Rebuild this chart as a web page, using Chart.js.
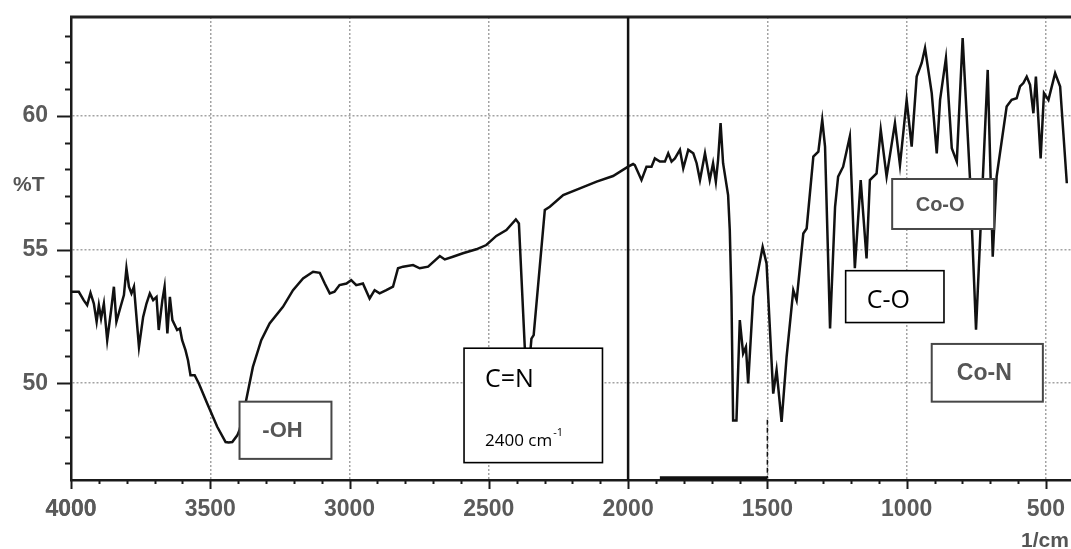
<!DOCTYPE html>
<html>
<head>
<meta charset="utf-8">
<title>FTIR spectrum</title>
<script src="https://cdn.jsdelivr.net/npm/chart.js@4.4.1/dist/chart.umd.min.js"></script>
<style>
  html, body { margin: 0; padding: 0; background: #fff; }
  #spectrum { display: block; }
</style>
</head>
<body>
<canvas id="spectrum" width="1071" height="549"></canvas>
<script>
// wavenumber (1/cm) and %T, read along the trace from 4000 down to ~425
const wavenumber = [
  4000, 3972, 3954, 3942, 3930, 3918, 3908, 3900, 3892, 3882, 3870, 3856, 3846, 3837, 3822, 3810,
  3801, 3792, 3783, 3774, 3756, 3741, 3729, 3717, 3705, 3693, 3685, 3672, 3664, 3654, 3645, 3636,
  3619, 3609, 3601, 3589, 3580, 3571, 3556, 3541, 3511, 3475, 3445, 3434, 3421, 3403, 3395, 3371,
  3347, 3317, 3287, 3239, 3203, 3167, 3131, 3107, 3089, 3071, 3054, 3036, 3011, 2994, 2976, 2952,
  2928, 2910, 2892, 2868, 2844, 2826, 2808, 2772, 2748, 2718, 2676, 2658, 2629, 2593, 2545, 2509,
  2473, 2437, 2403, 2392, 2371, 2364, 2355, 2347, 2339, 2299, 2281, 2233, 2173, 2113, 2054, 2000,
  1982, 1976, 1952, 1934, 1916, 1904, 1886, 1868, 1856, 1844, 1832, 1814, 1802, 1784, 1766, 1754,
  1742, 1724, 1707, 1695, 1685, 1677, 1668, 1659, 1641, 1635, 1629, 1623, 1611, 1599, 1587, 1577,
  1569, 1551, 1517, 1503, 1479, 1467, 1449, 1431, 1407, 1395, 1371, 1359, 1335, 1317, 1303, 1293,
  1275, 1257, 1246, 1228, 1204, 1186, 1165, 1144, 1132, 1108, 1093, 1072, 1042, 1024, 1000, 982,
  964, 946, 934, 910, 892, 880, 859, 838, 820, 799, 773, 751, 709, 691, 677, 641,
  623, 605, 593, 581, 569, 557, 545, 536, 527, 519, 507, 491, 467, 449, 425
];
const transmittance = [
  53.42, 53.42, 53.10, 52.92, 53.38, 52.98, 52.30, 52.92, 52.42, 52.98, 51.61, 52.73, 53.61, 52.30, 52.86, 53.30,
  54.30, 53.61, 53.36, 53.61, 51.36, 52.48, 52.98, 53.36, 53.11, 53.23, 51.99, 53.11, 53.61, 51.86, 53.23, 52.36,
  51.99, 52.05, 51.61, 51.24, 50.86, 50.30, 50.30, 49.99, 49.24, 48.37, 47.80, 47.78, 47.80, 48.05, 48.25, 49.37,
  50.61, 51.61, 52.24, 52.86, 53.48, 53.92, 54.17, 54.13, 53.73, 53.36, 53.42, 53.67, 53.73, 53.86, 53.67, 53.73,
  53.17, 53.48, 53.36, 53.48, 53.61, 54.30, 54.36, 54.42, 54.30, 54.36, 54.76, 54.63, 54.73, 54.86, 55.01, 55.17,
  55.51, 55.73, 56.13, 55.98, 51.36, 50.65, 50.70, 51.67, 51.80, 56.48, 56.60, 57.04, 57.29, 57.54, 57.75, 58.10,
  58.20, 58.16, 57.60, 58.10, 58.10, 58.41, 58.29, 58.29, 58.60, 58.29, 58.41, 58.73, 58.04, 58.73, 58.60, 58.23,
  57.60, 58.60, 57.60, 58.23, 57.54, 58.35, 59.73, 58.23, 57.04, 55.73, 53.23, 48.61, 48.61, 52.36, 51.11, 51.36,
  49.99, 53.23, 55.10, 54.48, 49.61, 50.49, 48.55, 50.99, 53.48, 53.10, 55.60, 55.79, 58.48, 58.66, 59.85, 58.85,
  52.05, 56.60, 57.73, 58.10, 59.23, 54.30, 57.60, 54.67, 57.60, 57.85, 59.48, 57.73, 59.73, 58.16, 60.60, 58.85,
  61.47, 61.98, 62.54, 60.85, 58.60, 60.60, 62.16, 58.79, 58.29, 62.91, 57.73, 52.00, 61.72, 54.73, 57.73, 60.35,
  60.60, 60.66, 61.10, 61.23, 61.47, 61.16, 60.10, 61.47, 59.85, 58.41, 60.85, 60.60, 61.60, 61.10, 57.48
];

const xTickLabels = [4000, 3500, 3000, 2500, 2000, 1500, 1000, 500];
const yTickLabels = [50, 55, 60];

// axis ranges
const xMin = 410, xMax = 4000;
const yMin = 46.38, yMax = 63.7;

// band assignment boxes, placed in axis units (wavenumber left/right, %T top/bottom)
const bands = [
  { text: '-OH', left: 3395, right: 3065, top: 49.31, bottom: 47.17, kind: 'grey', size: 22 },
  { text: 'C=N', sub: '2400 cm', sup: '-1', left: 2589, right: 2092, top: 51.31, bottom: 47.03, kind: 'black' },
  { text: 'C-O', left: 1219, right: 866, top: 54.21, bottom: 52.27, kind: 'black' },
  { text: 'Co-O', left: 1052, right: 686, top: 57.64, bottom: 55.77, kind: 'grey', size: 20 },
  { text: 'Co-N', left: 910, right: 511, top: 51.47, bottom: 49.31, kind: 'grey', size: 23 }
];

const axisFont = '"Liberation Sans", Arial, sans-serif';
const labelFont = '"Open Sans", "Noto Sans", sans-serif';

// labelled ticks plus unlabelled ones at the range ends
const withEnds = (labels, lo, hi) => [lo, ...labels, hi].sort((a, b) => a - b).map((v) => ({ value: v }));
const gridColor = (labels) => (ctx) => (labels.includes(ctx.tick.value) ? '#a3a3a3' : 'rgba(0,0,0,0)');

const decor = {
  id: 'decor',
  afterDatasetsDraw(chart) {
    const { ctx, scales: { x, y } } = chart;
    ctx.save();
    bands.forEach((b) => {
      const x1 = x.getPixelForValue(b.left);
      const x2 = x.getPixelForValue(b.right);
      const y1 = y.getPixelForValue(b.top);
      const y2 = y.getPixelForValue(b.bottom);
      ctx.fillStyle = '#fff';
      ctx.fillRect(x1, y1, x2 - x1, y2 - y1);
      ctx.lineWidth = b.kind === 'grey' ? 2 : 1.6;
      ctx.strokeStyle = b.kind === 'grey' ? '#474747' : '#000';
      ctx.strokeRect(x1, y1, x2 - x1, y2 - y1);

      if (b.kind === 'grey') {
        ctx.font = `bold ${b.size}px ${axisFont}`;
        ctx.fillStyle = '#555';
        ctx.textAlign = 'center';
        ctx.textBaseline = 'middle';
        ctx.fillText(b.text, (x1 + x2) / 2 - 3, (y1 + y2) / 2 + 1);
      } else if (b.sub) {
        ctx.fillStyle = '#000';
        ctx.textAlign = 'left';
        ctx.textBaseline = 'alphabetic';
        ctx.font = `25px ${labelFont}`;
        ctx.fillText(b.text, x1 + 21, y1 + 39);
        ctx.font = `17px ${labelFont}`;
        ctx.fillText(b.sub, x1 + 21, y1 + 98);
        const w = ctx.measureText(b.sub).width;
        ctx.font = `11px ${labelFont}`;
        ctx.fillText(b.sup, x1 + 22 + w, y1 + 88);
      } else {
        ctx.fillStyle = '#000';
        ctx.textAlign = 'left';
        ctx.textBaseline = 'alphabetic';
        ctx.font = `25px ${labelFont}`;
        ctx.fillText(b.text, x1 + 21, y1 + 37);
      }
    });
    ctx.restore();
  },
  afterDraw(chart) {
    const { ctx, chartArea: a, scales: { x, y } } = chart;
    ctx.save();
    ctx.strokeStyle = '#1a1a1a';

    // minor and major tick marks, pointing outwards
    ctx.lineWidth = 2;
    for (let v = 47; v <= 63; v++) {
      const py = Math.round(y.getPixelForValue(v)) + 0.5;
      const len = v % 5 === 0 ? 14 : 6;
      ctx.beginPath();
      ctx.moveTo(a.left - len, py);
      ctx.lineTo(a.left, py);
      ctx.stroke();
    }
    for (let v = 500; v <= 4000; v += 100) {
      const px = Math.round(x.getPixelForValue(v)) + 0.5;
      const len = v % 500 === 0 ? 9 : 4;
      ctx.beginPath();
      ctx.moveTo(px, a.bottom);
      ctx.lineTo(px, a.bottom + len);
      ctx.stroke();
    }

    // top frame
    ctx.lineWidth = 3;
    ctx.strokeStyle = '#222';
    ctx.beginPath();
    ctx.moveTo(a.left - 1, a.top);
    ctx.lineTo(a.right, a.top);
    ctx.stroke();

    // divider at 2000
    const px2000 = x.getPixelForValue(2000);
    ctx.lineWidth = 2.5;
    ctx.strokeStyle = '#111';
    ctx.beginPath();
    ctx.moveTo(px2000, a.top);
    ctx.lineTo(px2000, a.bottom);
    ctx.stroke();

    // dashed marker at 1500 and the bar along the axis
    const px1500 = x.getPixelForValue(1500);
    ctx.lineWidth = 1.5;
    ctx.setLineDash([5, 3]);
    ctx.beginPath();
    ctx.moveTo(px1500, y.getPixelForValue(48.63));
    ctx.lineTo(px1500, a.bottom - 2);
    ctx.stroke();
    ctx.setLineDash([]);
    ctx.lineWidth = 3.5;
    ctx.beginPath();
    ctx.moveTo(x.getPixelForValue(1886), a.bottom - 2);
    ctx.lineTo(px1500, a.bottom - 2);
    ctx.stroke();

    // axis titles
    ctx.fillStyle = '#555';
    ctx.font = `bold 21px ${axisFont}`;
    ctx.textAlign = 'left';
    ctx.textBaseline = 'middle';
    ctx.fillText('%T', 13, 185);
    ctx.textBaseline = 'alphabetic';
    ctx.fillText('1/cm', 1021, 547);
    ctx.restore();
  }
};

new Chart(document.getElementById('spectrum'), {
  type: 'line',
  data: {
    datasets: [{
      data: wavenumber.map((w, i) => ({ x: w, y: transmittance[i] })),
      borderColor: '#111',
      borderWidth: 2.5,
      pointRadius: 0,
      tension: 0,
      fill: false
    }]
  },
  options: {
    responsive: false,
    animation: false,
    devicePixelRatio: 1,
    layout: { padding: { top: 17, right: 0, bottom: 0, left: 0 } },
    plugins: { legend: { display: false }, tooltip: { enabled: false } },
    scales: {
      x: {
        type: 'linear',
        reverse: true,
        min: xMin,
        max: xMax,
        afterBuildTicks: (scale) => { scale.ticks = withEnds(xTickLabels, xMin, xMax); },
        afterFit: (scale) => {
          scale.height = 69;
          scale.paddingLeft = 0;
          scale.paddingRight = 0;
        },
        ticks: {
          color: '#5a5a5a',
          padding: 16,
          maxRotation: 0,
          autoSkip: false,
          font: { family: axisFont, size: 23, weight: 'bold' },
          callback: (v) => (xTickLabels.includes(v) ? String(v) : '')
        },
        grid: { color: gridColor(xTickLabels), lineWidth: 1.5, drawTicks: false },
        border: { display: true, color: '#1a1a1a', width: 2.5, dash: [2, 2] }
      },
      y: {
        min: yMin,
        max: yMax,
        afterBuildTicks: (scale) => { scale.ticks = withEnds(yTickLabels, yMin, yMax); },
        afterFit: (scale) => {
          scale.width = 71;
          scale.paddingTop = 0;
          scale.paddingBottom = 0;
        },
        ticks: {
          color: '#5a5a5a',
          padding: 23,
          autoSkip: false,
          font: { family: axisFont, size: 23, weight: 'bold' },
          callback: (v) => (yTickLabels.includes(v) ? String(v) : '')
        },
        grid: { color: gridColor(yTickLabels), lineWidth: 1.5, drawTicks: false },
        border: { display: true, color: '#1a1a1a', width: 2.5, dash: [2, 2] }
      }
    }
  },
  plugins: [decor]
});
</script>
</body>
</html>
